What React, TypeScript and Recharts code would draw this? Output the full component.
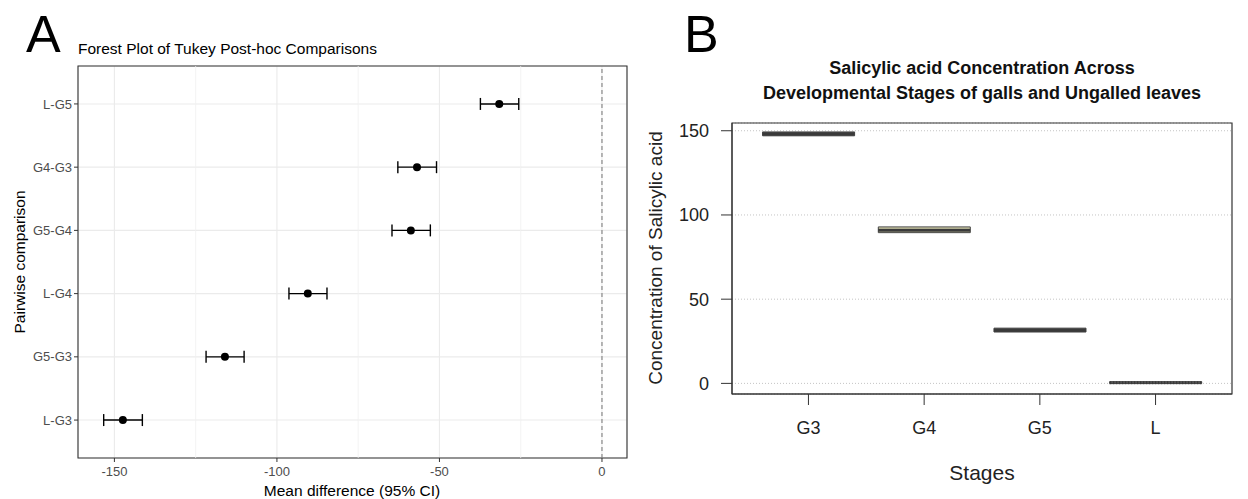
import React from "react";
import {
  ScatterChart,
  ComposedChart,
  Scatter,
  Bar,
  Cell,
  XAxis,
  YAxis,
  CartesianGrid,
  ReferenceLine,
  ReferenceArea,
  ErrorBar,
} from "recharts";

// ---------- Panel A: Tukey post-hoc forest plot (bottom to top) ----------
const comparisons = ["L-G3", "G5-G3", "L-G4", "G5-G4", "G4-G3", "L-G5"];
const meanDiff = [-147.4, -116.0, -90.5, -58.8, -56.9, -31.6];
const ciLower = [-153.3, -121.8, -96.3, -64.6, -62.8, -37.4];
const ciUpper = [-141.4, -110.1, -84.6, -52.8, -50.9, -25.6];
const xTicksA = [-150, -100, -50, 0];
const xMinorA = [-125, -75, -25];

// ---------- Panel B: salicylic acid concentration boxes ----------
const stages = ["G3", "G4", "G5", "L"];
const q1 = [147.0, 89.5, 30.5, 0.0];
const medians = [148.1, 90.9, 31.6, 0.4];
const q3 = [149.3, 92.9, 32.8, 1.0];
const boxFill = ["#505050", "#d6d5ad", "#505050", "#7a7a7a"];
const yTicksB = [0, 50, 100, 150];

const FONT = "'Liberation Sans', Arial, sans-serif";

const forestData = comparisons.map((c, i) => ({
  comparison: c,
  pos: i + 1,
  diff: meanDiff[i],
  err: [meanDiff[i] - ciLower[i], ciUpper[i] - meanDiff[i]],
}));

const boxData = stages.map((s, i) => ({
  stage: s,
  box: [q1[i], q3[i]],
  median: medians[i],
}));

const Dot = (props: any) => {
  const { cx, cy } = props;
  if (cx == null || cy == null) return null;
  return <circle cx={cx} cy={cy} r={4} fill="#000" />;
};

const MedianLine = (props: any) => {
  const { cx, cy, payload } = props;
  if (cx == null || cy == null) return null;
  const dashed = payload && payload.stage === "L";
  return (
    <line
      x1={cx - 46}
      x2={cx + 46}
      y1={cy}
      y2={cy}
      stroke="#3a3a3a"
      strokeWidth={3}
      strokeDasharray={dashed ? "2 1" : undefined}
    />
  );
};

export default function App() {
  return (
    <div
      style={{
        position: "absolute",
        left: 0,
        top: 0,
        width: 1248,
        height: 499,
        background: "#fff",
        fontFamily: FONT,
      }}
    >
      <div style={{ position: "absolute", left: 0, top: 0 }}>
        <ScatterChart
          width={640}
          height={499}
          margin={{ top: 66, right: 13, bottom: 0, left: 0 }}
        >
          <CartesianGrid stroke="#ebebeb" strokeWidth={1.1} />
          {xMinorA.map((v) => (
            <ReferenceLine key={v} x={v} stroke="#f0f0f0" strokeWidth={0.8} />
          ))}
          <ReferenceLine x={0} stroke="#808080" strokeDasharray="4 3" strokeWidth={1.1} />
          <XAxis
            type="number"
            dataKey="diff"
            domain={[-161.2, 7.7]}
            allowDataOverflow
            ticks={xTicksA}
            height={41}
            tickSize={4}
            tickMargin={5}
            axisLine={false}
            tickLine={{ stroke: "#333" }}
            tick={{ fill: "#4d4d4d", fontSize: 13, fontFamily: FONT }}
          />
          <YAxis
            type="number"
            dataKey="pos"
            domain={[0.4, 6.6]}
            allowDataOverflow
            ticks={[1, 2, 3, 4, 5, 6]}
            tickFormatter={(v: number) => comparisons[v - 1] ?? ""}
            width={78}
            tickSize={4}
            tickMargin={2}
            axisLine={false}
            tickLine={{ stroke: "#333" }}
            tick={{ fill: "#4d4d4d", fontSize: 13, fontFamily: FONT }}
          />
          <ReferenceArea
            x1={-161.2}
            x2={7.7}
            y1={0.4}
            y2={6.6}
            fill="none"
            fillOpacity={0}
            stroke="#333"
            strokeWidth={1.1}
            ifOverflow="visible"
          />
          <Scatter data={forestData} fill="#000" shape={Dot} isAnimationActive={false}>
            <ErrorBar
              dataKey="err"
              direction="x"
              width={6}
              stroke="#000"
              strokeWidth={1.4}
              isAnimationActive={false}
            />
          </Scatter>
        </ScatterChart>
      </div>

      <div style={{ position: "absolute", left: 640, top: 0 }}>
        <ComposedChart
          width={608}
          height={499}
          data={boxData}
          margin={{ top: 123, right: 16, bottom: 0, left: 0 }}
        >
          <CartesianGrid vertical={false} stroke="#c4c4c4" strokeDasharray="1 2" />
          <XAxis
            dataKey="stage"
            type="category"
            padding={{ left: 18.6, right: 18.6 }}
            height={105}
            tickSize={11}
            tickMargin={16}
            axisLine={{ stroke: "#333" }}
            tickLine={{ stroke: "#333" }}
            tick={{ fill: "#222", fontSize: 18, fontFamily: FONT }}
          />
          <XAxis
            xAxisId="frame"
            type="number"
            domain={[0, stages.length - 1]}
            allowDataOverflow
            hide
          />
          <YAxis
            domain={[-6.3, 154.6]}
            allowDataOverflow
            ticks={yTicksB}
            width={92}
            tickSize={11}
            tickMargin={12}
            axisLine={{ stroke: "#333" }}
            tickLine={{ stroke: "#333" }}
            tick={{ fill: "#222", fontSize: 18, fontFamily: FONT }}
          />
          <ReferenceArea
            xAxisId="frame"
            x1={0}
            x2={stages.length - 1}
            y1={-6.3}
            y2={154.6}
            fill="none"
            fillOpacity={0}
            stroke="#333"
            strokeWidth={1.2}
            ifOverflow="visible"
          />
          <Bar dataKey="box" barSize={92} stroke="#444" strokeWidth={1} isAnimationActive={false}>
            {boxData.map((d, i) => (
              <Cell key={d.stage} fill={boxFill[i]} />
            ))}
          </Bar>
          <Scatter dataKey="median" shape={MedianLine} isAnimationActive={false} />
        </ComposedChart>
      </div>

      <svg
        width={1248}
        height={499}
        style={{ position: "absolute", left: 0, top: 0, pointerEvents: "none" }}
        fontFamily={FONT}
      >
        <text x={26} y={52} fontSize={52} fill="#000">A</text>
        <text x={78} y={54} fontSize={15.5} fill="#000">
          Forest Plot of Tukey Post-hoc Comparisons
        </text>
        <text
          x={0}
          y={0}
          fontSize={15.5}
          fill="#000"
          textAnchor="middle"
          dominantBaseline="central"
          transform="translate(19,262) rotate(-90)"
        >
          Pairwise comparison
        </text>
        <text x={352} y={496} fontSize={15.5} fill="#000" textAnchor="middle">
          Mean difference (95% CI)
        </text>

        <text x={684} y={52} fontSize={52} fill="#000">B</text>
        <text x={982} y={74} fontSize={18} fontWeight="bold" fill="#111" textAnchor="middle">
          Salicylic acid Concentration Across
        </text>
        <text x={982} y={99} fontSize={18} fontWeight="bold" fill="#111" textAnchor="middle">
          Developmental Stages of galls and Ungalled leaves
        </text>
        <text
          x={0}
          y={0}
          fontSize={19}
          fill="#222"
          textAnchor="middle"
          dominantBaseline="central"
          transform="translate(655,258) rotate(-90)"
        >
          Concentration of Salicylic acid
        </text>
        <text x={982} y={480} fontSize={21} fill="#222" textAnchor="middle">
          Stages
        </text>
      </svg>
    </div>
  );
}
